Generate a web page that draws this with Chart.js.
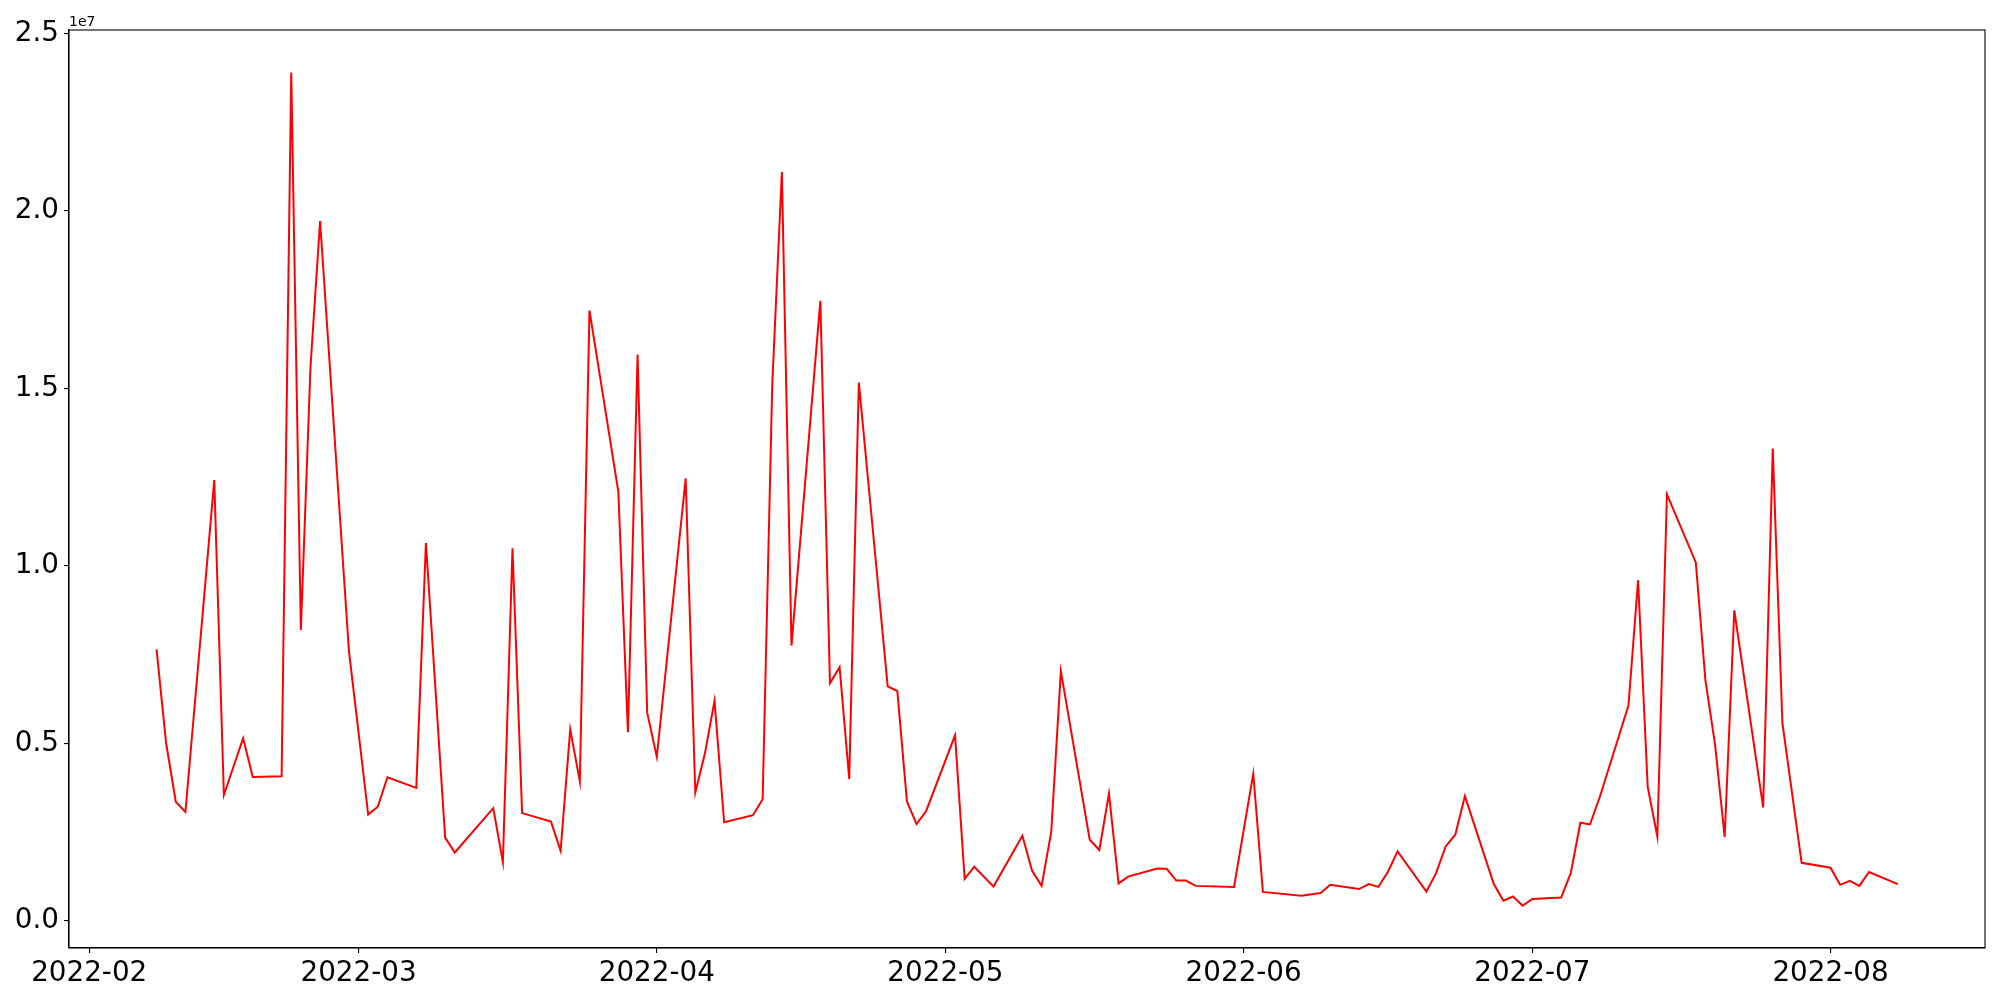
<!DOCTYPE html>
<html>
<head>
<meta charset="utf-8">
<script src="https://cdn.jsdelivr.net/npm/chart.js@4.4.1/dist/chart.umd.min.js"></script>
<style>
  html, body { margin: 0; padding: 0; background: #fff; }
  #wrap { width: 2000px; height: 1000px; }
</style>
</head>
<body>
<div id="wrap"><canvas id="volChart" width="2000" height="1000"></canvas></div>
<script>
// trading days (gaps are real gaps in the data)
const dates = [
  "2022-02-08", "2022-02-09", "2022-02-10", "2022-02-11", "2022-02-14", "2022-02-15", "2022-02-17", "2022-02-18",
  "2022-02-21", "2022-02-22", "2022-02-23", "2022-02-24", "2022-02-25", "2022-02-28",
  "2022-03-02", "2022-03-03", "2022-03-04", "2022-03-07", "2022-03-08", "2022-03-10", "2022-03-11",
  "2022-03-15", "2022-03-16", "2022-03-17", "2022-03-18", "2022-03-21", "2022-03-22", "2022-03-23",
  "2022-03-24", "2022-03-25", "2022-03-28", "2022-03-29", "2022-03-30", "2022-03-31",
  "2022-04-01", "2022-04-04", "2022-04-05", "2022-04-06", "2022-04-07", "2022-04-08", "2022-04-11",
  "2022-04-12", "2022-04-13", "2022-04-14", "2022-04-15", "2022-04-18", "2022-04-19", "2022-04-20",
  "2022-04-21", "2022-04-22", "2022-04-25", "2022-04-26", "2022-04-27", "2022-04-28", "2022-04-29",
  "2022-05-02", "2022-05-03", "2022-05-04", "2022-05-06", "2022-05-09", "2022-05-10", "2022-05-11",
  "2022-05-12", "2022-05-13", "2022-05-16", "2022-05-17", "2022-05-18", "2022-05-19", "2022-05-20",
  "2022-05-23", "2022-05-24", "2022-05-25", "2022-05-26", "2022-05-27", "2022-05-31",
  "2022-06-02", "2022-06-03", "2022-06-07", "2022-06-09", "2022-06-10", "2022-06-13", "2022-06-14",
  "2022-06-15", "2022-06-16", "2022-06-17", "2022-06-20", "2022-06-21", "2022-06-22", "2022-06-23",
  "2022-06-24", "2022-06-27", "2022-06-28", "2022-06-29", "2022-06-30",
  "2022-07-01", "2022-07-04", "2022-07-05", "2022-07-06", "2022-07-07", "2022-07-08", "2022-07-11",
  "2022-07-12", "2022-07-13", "2022-07-14", "2022-07-15", "2022-07-18", "2022-07-19", "2022-07-20",
  "2022-07-21", "2022-07-22", "2022-07-25", "2022-07-26", "2022-07-27", "2022-07-29",
  "2022-08-01", "2022-08-02", "2022-08-03", "2022-08-04", "2022-08-05", "2022-08-08"
];

const volume = [
  7650000, 5000000, 3360000, 3070000, 12420000, 3550000, 5150000, 4060000,
  4080000, 23900000, 8200000, 15600000, 19720000, 7600000,
  3000000, 3220000, 4050000, 3750000, 10650000, 2350000, 1930000,
  3180000, 1660000, 10500000, 3040000, 2800000, 1980000, 5400000,
  3930000, 17200000, 12100000, 5320000, 15960000, 5870000,
  4620000, 12470000, 3620000, 4720000, 6200000, 2780000, 2980000,
  3430000, 15100000, 21100000, 7760000, 17470000, 6700000, 7150000,
  4000000, 15170000, 6610000, 6480000, 3370000, 2730000, 3100000,
  5230000, 1190000, 1530000, 970000, 2400000, 1420000, 990000,
  2510000, 7040000, 2290000, 2000000, 3590000, 1060000, 1250000,
  1480000, 1470000, 1140000, 1140000, 990000, 960000,
  4150000, 820000, 710000, 790000, 1020000, 900000, 1040000,
  960000, 1390000, 1960000, 830000, 1350000, 2100000, 2430000,
  3520000, 1040000, 570000, 690000, 430000,
  620000, 660000, 1350000, 2770000, 2720000, 3480000, 6070000,
  9600000, 3780000, 2380000, 12020000, 10100000, 6780000, 4970000,
  2370000, 8750000, 3200000, 13310000, 5580000, 1640000,
  1500000, 1020000, 1130000, 990000, 1380000, 1040000
];

const monthTicks = ["2022-02", "2022-03", "2022-04", "2022-05", "2022-06", "2022-07", "2022-08"];
const yTicks = [0, 5000000, 10000000, 15000000, 20000000, 25000000];

const BASE = Date.UTC(2022, 1, 1);
function dayOf(s) {
  const p = s.split("-").map(Number);
  return (Date.UTC(p[0], p[1] - 1, p[2] || 1) - BASE) / 86400000;
}

const points = dates.map((d, i) => ({ x: dayOf(d), y: volume[i] }));
const xTickPos = monthTicks.map(dayOf);

const FONT = "'DejaVu Sans', 'Liberation Sans', sans-serif";

const frame = {
  id: "frame",
  afterDraw(chart) {
    const { ctx, chartArea: a } = chart;
    ctx.save();
    ctx.strokeStyle = "#000";
    ctx.lineWidth = 1.1;
    ctx.strokeRect(a.left, a.top, a.right - a.left, a.bottom - a.top);
    ctx.fillStyle = "#000";
    ctx.font = "14px " + FONT;
    ctx.textAlign = "left";
    ctx.textBaseline = "alphabetic";
    ctx.fillText("1e7", a.left, a.top - 4);
    ctx.restore();
  }
};

new Chart(document.getElementById("volChart"), {
  type: "line",
  data: {
    datasets: [{
      data: points,
      borderColor: "#ff0000",
      borderWidth: 2,
      pointRadius: 0,
      tension: 0,
      fill: false
    }]
  },
  options: {
    responsive: false,
    animation: false,
    events: [],
    layout: { padding: { top: 30, right: 15, left: 0, bottom: 0 } },
    plugins: { legend: { display: false }, tooltip: { enabled: false } },
    scales: {
      x: {
        type: "linear",
        min: -2.1,
        max: 197.06,
        afterBuildTicks: s => { s.ticks = xTickPos.map(v => ({ value: v })); },
        afterFit: s => { s.height = 52; },
        ticks: {
          autoSkip: false,
          maxRotation: 0,
          padding: 4,
          color: "#000",
          font: { family: FONT, size: 27.8 },
          callback: v => monthTicks[xTickPos.indexOf(v)]
        },
        grid: { drawOnChartArea: false, drawTicks: true, tickLength: 5, color: "#000", lineWidth: 1.1 },
        border: { display: true, color: "#000", width: 1.1 }
      },
      y: {
        type: "linear",
        min: -760000,
        max: 25100000,
        afterBuildTicks: s => { s.ticks = yTicks.map(v => ({ value: v })); },
        afterFit: s => { s.width = 69; },
        ticks: {
          padding: 5,
          color: "#000",
          font: { family: FONT, size: 27.8 },
          callback: v => (v / 1e7).toFixed(1)
        },
        grid: { drawOnChartArea: false, drawTicks: true, tickLength: 5, color: "#000", lineWidth: 1.1 },
        border: { display: true, color: "#000", width: 1.1 }
      }
    }
  },
  plugins: [frame]
});
</script>
</body>
</html>
